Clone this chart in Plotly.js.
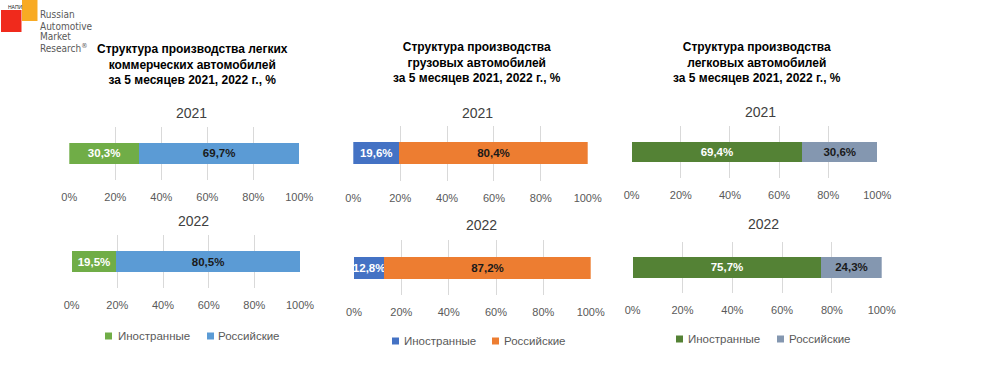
<!DOCTYPE html>
<html>
<head>
<meta charset="utf-8">
<script src="https://cdn.plot.ly/plotly-3.0.1.min.js"></script>
<style>
html,body{margin:0;padding:0;background:#fff;}
#chart{width:997px;height:391px;}
</style>
</head>
<body>
<div id="chart"></div>
<script>
// ---- data ----
const years = ['2021', '2022'];
const seriesNames = ['Иностранные', 'Российские'];
const panelTitles = [
  'Структура производства легких<br>коммерческих автомобилей<br>за 5 месяцев 2021, 2022 г., %',
  'Структура производства<br>грузовых автомобилей<br>за 5 месяцев 2021, 2022 г., %',
  'Структура производства<br>легковых автомобилей<br>за 5 месяцев 2021, 2022 г., %'
];
// Light commercial vehicles
const lcvForeign = [30.3, 19.5];
const lcvRussian = [69.7, 80.5];
// Trucks
const truckForeign = [19.6, 12.8];
const truckRussian = [80.4, 87.2];
// Passenger cars
const carForeign = [69.4, 75.7];
const carRussian = [30.6, 24.3];
const tickValues = [0, 20, 40, 60, 80, 100];
const tickLabels = ['0%', '20%', '40%', '60%', '80%', '100%'];

// ---- styling / layout ----
const panels = [
  {foreign: lcvForeign, russian: lcvRussian, colors: ['#70AD47', '#5B9BD5'],
   dom: [[[69.3, 299.3], [126.7, 180]], [[71.7, 300], [235, 288]]],
   titleX: 192, titleY: 64, yearX: [191, 193], yearY: [113, 221],
   legend: {y: 336, sq: [105, 207], tx: [116, 216]}},
  {foreign: truckForeign, russian: truckRussian, colors: ['#4472C4', '#ED7D31'],
   dom: [[[353.3, 587.7], [126, 180.7]], [[354, 590.7], [240, 295]]],
   titleX: 477, titleY: 62.5, yearX: [477, 481], yearY: [113, 225],
   legend: {y: 341, sq: [392, 492], tx: [402, 502]}},
  {foreign: carForeign, russian: carRussian, colors: ['#548235', '#8497B0'],
   dom: [[[631.7, 877.3], [126, 178]], [[632.7, 881.7], [241.7, 293]]],
   titleX: 757, titleY: 62.5, yearX: [760, 763], yearY: [112, 224],
   legend: {y: 339, sq: [676, 777], tx: [686, 787]}}
];
const W = 997, H = 391;
const fmt = v => v.toFixed(1).replace('.', ',') + '%';
const px = x => x / W;
const py = y => 1 - y / H;

const data = [];
const layout = {
  width: W, height: H,
  margin: {l: 0, r: 0, t: 0, b: 0},
  paper_bgcolor: '#fff', plot_bgcolor: 'rgba(0,0,0,0)',
  barmode: 'stack', bargap: 0.6,
  showlegend: false,
  font: {family: 'Liberation Sans, Arial, sans-serif', color: '#595959'},
  annotations: [], shapes: []
};

let k = 0;
panels.forEach((p, pi) => {
  years.forEach((yr, yi) => {
    k++;
    const xa = k === 1 ? 'x' : 'x' + k;
    const ya = k === 1 ? 'y' : 'y' + k;
    const xKey = k === 1 ? 'xaxis' : 'xaxis' + k;
    const yKey = k === 1 ? 'yaxis' : 'yaxis' + k;
    const d = p.dom[yi];
    [p.foreign, p.russian].forEach((vals, si) => {
      data.push({
        type: 'bar', orientation: 'h',
        x: [vals[yi]], y: [yr],
        xaxis: xa, yaxis: ya,
        name: seriesNames[si],
        marker: {color: p.colors[si], line: {width: 0}},
        text: [fmt(vals[yi])],
        textposition: 'inside', insidetextanchor: 'middle',
        constraintext: 'none',
        textfont: {family: 'Liberation Sans, Arial, sans-serif', size: 11.5,
                   color: si === 0 ? '#FFFFFF' : '#1A1A1A', weight: 'bold'},
        hoverinfo: 'skip'
      });
    });
    layout[xKey] = {
      domain: [px(d[0][0]), px(d[0][1])], anchor: ya,
      range: [0, 100], tickvals: tickValues, ticktext: tickLabels,
      showgrid: true, gridcolor: '#D9D9D9', gridwidth: 1,
      zeroline: false, showline: false, ticks: '',
      ticklabelstandoff: 9,
      tickfont: {size: 11, color: '#595959'}, fixedrange: true
    };
    layout[yKey] = {
      domain: [py(d[1][1]), py(d[1][0])], anchor: xa,
      type: 'category', range: [-0.5, 0.5],
      showticklabels: false, showgrid: false, zeroline: false, showline: false,
      fixedrange: true
    };
    layout.annotations.push({
      xref: 'paper', yref: 'paper', x: px(p.yearX[yi]), y: py(p.yearY[yi]),
      xanchor: 'center', yanchor: 'middle', showarrow: false,
      text: yr, font: {size: 14, color: '#404040'}
    });
  });
  // panel title
  layout.annotations.push({
    xref: 'paper', yref: 'paper', x: px(p.titleX), y: py(p.titleY),
    xanchor: 'center', yanchor: 'middle', showarrow: false, align: 'center',
    text: '<b>' + panelTitles[pi] + '</b>',
    font: {size: 12, color: '#000000'}
  });
  // legend
  seriesNames.forEach((nm, si) => {
    layout.shapes.push({
      type: 'rect', xref: 'paper', yref: 'paper',
      x0: px(p.legend.sq[si]), x1: px(p.legend.sq[si] + 7),
      y0: py(p.legend.y + 3.5), y1: py(p.legend.y - 3.5),
      fillcolor: p.colors[si], line: {width: 0}
    });
    layout.annotations.push({
      xref: 'paper', yref: 'paper', x: px(p.legend.tx[si]), y: py(p.legend.y),
      xanchor: 'left', yanchor: 'middle', showarrow: false,
      text: nm, font: {size: 11.5, color: '#595959'}
    });
  });
});

// logo
layout.shapes.push({type: 'rect', xref: 'paper', yref: 'paper',
  x0: px(1), x1: px(21.5), y0: py(32), y1: py(10), fillcolor: '#F02A1C', line: {width: 0}, layer: 'below'});
layout.shapes.push({type: 'rect', xref: 'paper', yref: 'paper',
  x0: px(22), x1: px(37.5), y0: py(21), y1: py(0), fillcolor: '#F8AA24', line: {width: 0}, layer: 'below'});
layout.annotations.push({xref: 'paper', yref: 'paper', x: px(6), y: py(6.5),
  xanchor: 'left', yanchor: 'middle', showarrow: false, text: 'НАПИ',
  font: {size: 5, color: '#222'}});
['Russian', 'Automotive', 'Market', 'Research<sup>®</sup>'].forEach((t, i) => {
  layout.annotations.push({xref: 'paper', yref: 'paper', x: px(37.5), y: py(15 + i * 11),
    xanchor: 'left', yanchor: 'middle', showarrow: false, text: t,
    font: {family: 'Liberation Sans Narrow, DejaVu Sans Condensed, sans-serif', size: 10, color: '#595959'}});
});

Plotly.newPlot('chart', data, layout, {displayModeBar: false, staticPlot: true});
</script>
</body>
</html>
